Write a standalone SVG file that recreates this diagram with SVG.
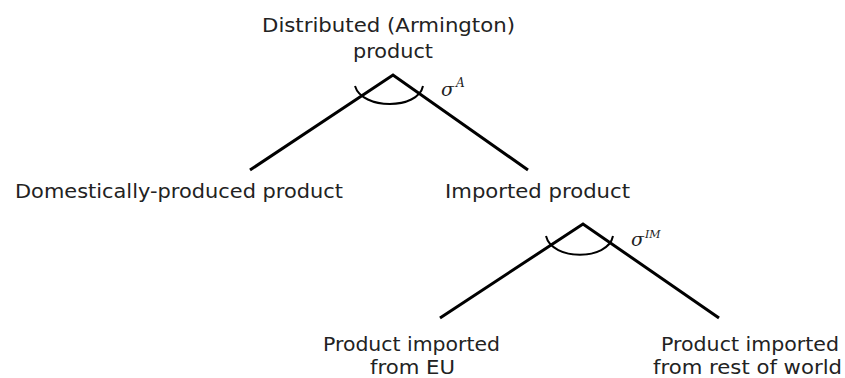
<svg xmlns="http://www.w3.org/2000/svg" width="845" height="378" viewBox="0 0 845 378">
  <style>
    .lbl { font-family: "DejaVu Sans", Verdana, sans-serif; font-size: 19px; fill: #222; }
    .branch { stroke: #000; stroke-width: 3; fill: none; stroke-linecap: butt; }
    .arc { stroke: #000; stroke-width: 2; fill: none; }
    .sig { font-family: "DejaVu Serif", "Liberation Serif", serif; font-style: italic; fill: #222; }
  </style>
  <rect width="845" height="378" fill="#fff"/>

  <!-- connectors of the nesting tree -->
  <g id="connectors">
    <path class="branch" d="M250,170 L393,75 L528,170"/>
    <path class="arc" d="M355,86 C362,110 418,110 423,86"/>
    <path class="branch" d="M440,318 L583,224 L719,318"/>
    <path class="arc" d="M546,236 C552,261 608,261 613,236"/>
  </g>

  <!-- elasticity labels -->
  <g id="sigma-A">
    <text class="sig" x="441" y="96" font-size="19">σ</text>
    <text class="sig" x="456" y="87" font-size="12">A</text>
  </g>
  <g id="sigma-IM">
    <text class="sig" x="631" y="246" font-size="19">σ</text>
    <text class="sig" x="645" y="238" font-size="11">IM</text>
  </g>

  <g id="armington">
    <text class="lbl" x="262" y="32" textLength="253" lengthAdjust="spacingAndGlyphs">Distributed (Armington)</text>
    <text class="lbl" x="353" y="58" textLength="80" lengthAdjust="spacingAndGlyphs">product</text>
  </g>
  <g id="domestic">
    <text class="lbl" x="15" y="198" textLength="328" lengthAdjust="spacingAndGlyphs">Domestically-produced product</text>
  </g>
  <g id="imported">
    <text class="lbl" x="445" y="198" textLength="185" lengthAdjust="spacingAndGlyphs">Imported product</text>
  </g>
  <g id="from-eu">
    <text class="lbl" x="323" y="351" textLength="177" lengthAdjust="spacingAndGlyphs">Product imported</text>
    <text class="lbl" x="370" y="374" textLength="85" lengthAdjust="spacingAndGlyphs">from EU</text>
  </g>
  <g id="from-row">
    <text class="lbl" x="661" y="351" textLength="178" lengthAdjust="spacingAndGlyphs">Product imported</text>
    <text class="lbl" x="653" y="374" textLength="189" lengthAdjust="spacingAndGlyphs">from rest of world</text>
  </g>
</svg>
